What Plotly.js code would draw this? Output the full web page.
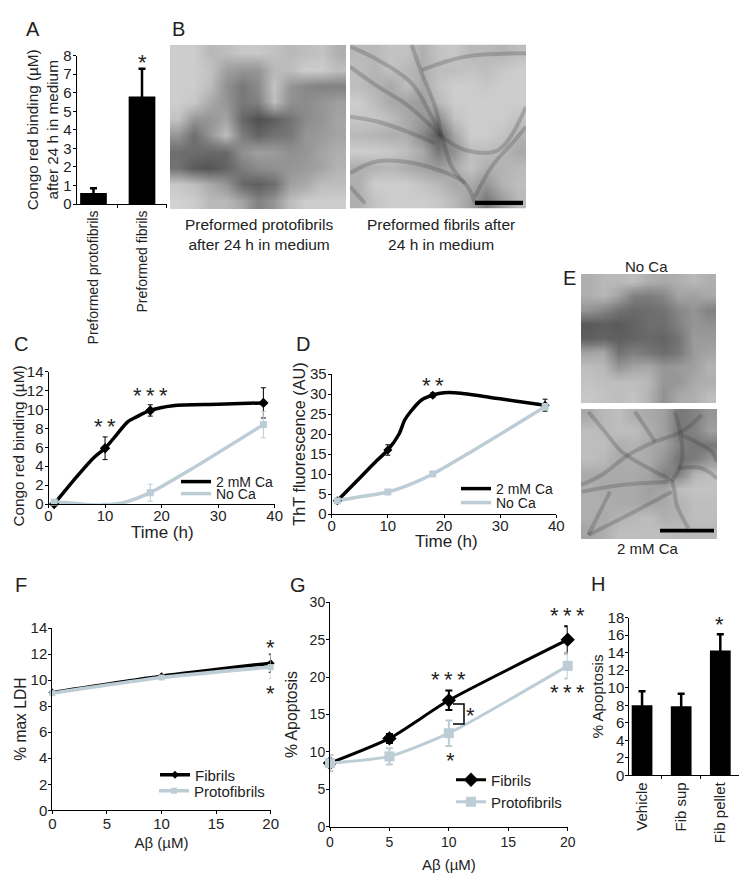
<!DOCTYPE html>
<html>
<head>
<meta charset="utf-8">
<script src="https://cdn.plot.ly/plotly-3.0.1.min.js"></script>
<style>html,body{margin:0;padding:0;background:#fff}#chart{width:752px;height:886px}</style>
</head>
<body>
<div id="chart"></div>
<script>
// ---------- data ----------
const aCategories = ['Preformed protofibrils', 'Preformed fibrils'];
const aValues = [0.6, 5.8];
const aErrors = [0.25, 1.5];

const hCategories = ['Vehicle', 'Fib sup', 'Fib pellet'];
const hValues = [8, 7.9, 14.25];
const hErrors = [1.6, 1.4, 1.85];

const timePoints = [1, 10, 18, 38];
const cCa = [0, 5.9, 9.9, 10.7];
const cCaErr = [0, 1.2, 0.6, 1.6];
const cNoCa = [0.2, -0.1, 1.2, 8.4];
const cNoCaErr = [0, 0.2, 0.9, 1.4];
const cCaCurveX = [1, 5, 8, 10, 12, 14, 15.5, 18, 22, 30, 38];
const cCaCurveY = [0, 2.9, 4.9, 5.9, 7.3, 8.7, 9.2, 9.9, 10.4, 10.55, 10.7];
const cNoCaCurveX = [1, 5, 8, 10, 13, 18, 25, 38];
const cNoCaCurveY = [0.2, 0.05, -0.1, -0.1, 0.1, 1.2, 3.6, 8.4];

const dCa = [3.3, 16, 29.7, 27.2];
const dCaErr = [0, 1.3, 0.6, 1.5];
const dNoCa = [3.3, 5.5, 10, 26.8];
const dNoCaErr = [0.5, 0.5, 0.5, 0.8];
const dCaCurveX = [1, 5, 8, 10, 12, 13, 14, 16, 18, 20, 23, 30, 38];
const dCaCurveY = [3.3, 9, 13.3, 16, 20, 23.5, 25.5, 28.5, 29.7, 30.3, 30.2, 28.8, 27.2];
const dNoCaCurveX = [1, 5, 10, 14, 18, 25, 38];
const dNoCaCurveY = [3.3, 4.3, 5.5, 7.4, 10, 15.7, 26.8];

const fDose = [0, 10, 20];
const fFibrils = [9.05, 10.3, 11.3];
const fFibrilsErr = [0.1, 0.1, 0.7];
const fProto = [9, 10.2, 11];
const fProtoErr = [0.1, 0.1, 0.9];

const gDose = [0, 5, 10, 20];
const gFibrils = [8.5, 11.8, 16.9, 25];
const gFibrilsErr = [0.5, 0.6, 1.3, 1.8];
const gProto = [8.5, 9.4, 12.5, 21.5];
const gProtoErr = [1.1, 1.1, 1.7, 1.7];

const imgB1 = [
 [205,205,185,190,200,200,195,185,190,195,175],
 [205,205,195,160,150,150,185,190,205,205,190],
 [205,205,190,145,120,140,195,150,135,130,130],
 [205,200,170,150,120,130,190,145,140,150,160],
 [195,150,150,165,105, 80, 95,115,140,150,165],
 [150,110,150,190,125,100,115,120,150,155,165],
 [110,110,105,105,145,160,155,145,150,165,175],
 [115, 90, 85,100,125,140,145,150,155,165,180],
 [200,190,170,150,105, 95,110,160,170,190,190],
 [210,205,185,185,165,130,150,190,205,205,205]];
const imgB2 = [
 [185,185,195,195,175,195,200,185,185,180,190],
 [190,180,195,185,175,190,190,195,190,200,205],
 [190,180,170,190,170,195,205,205,200,205,205],
 [205,190,170,165,155,185,205,205,205,205,205],
 [200,200,190,170,155,140,195,205,205,205,195],
 [185,180,175,175,140, 90,165,205,205,195,180],
 [205,205,200,190,170,120,145,190,190,185,170],
 [175,180,185,175,165,155,170,195,175,180,185],
 [175,205,205,205,195,185,170,170,150,180,190],
 [175,195,205,205,205,200,185,160,120,155,185]];
const imgE1 = [
 [175,185,185,190,175,170,175,185,175],
 [175,185,165,130,125,135,165,160,170],
 [150,135,115,105,110,115,135,150,130],
 [ 90, 95, 90,100,110,110,130,150,145],
 [ 95,100, 95,100,105,100,115,155,155],
 [165,170,115,130,120,110,120,155,165],
 [190,185,150,165,170,150,155,160,180],
 [195,190,190,190,185,150,150,170,175],
 [200,195,190,195,180,145,170,175,190]];
const imgE2 = [
 [170,185,190,175,170,160,120,130,150],
 [190,185,190,190,175,160,120,130,160],
 [190,190,175,180,170,160,130,120,120],
 [190,185,170,175,170,150,115,125,150],
 [170,170,170,170,165,130,130,180,190],
 [175,170,170,170,160,165,190,195,195],
 [175,175,170,170,165,170,180,190,190],
 [175,170,180,185,190,175,180,190,190],
 [165,175,190,190,190,190,185,185,185]];

const b2FibreX = [
 [350.3,378,411.7,431.7,441.7,451.7,465],
 [350,378,405,428.3,441.7],
 [411.7,421.7,435,441.7],
 [350,378.3,411.7,435],
 [350,375,405,438.3,465,475],
 [421.7,465,526],
 [441.7,465,498.3,526],
 [475,491.7,515,526],
 [350,365]];
const b2FibreY = [
 [46.7,60,83.3,116.7,136.7,166.7,183.3],
 [66.7,86.7,103.3,123.3,136.7],
 [45,73.3,106.7,136.7],
 [116.7,121.7,133.3,143.3],
 [173.3,161.7,161.7,170,183.3,203.3],
 [70,56.7,53.3],
 [136.7,150,150,106.7],
 [196.7,166.7,140,126.7],
 [186.7,203.3]];
const e2FibreX = [
 [581,601.7,628.3,655,681.7,701.7],
 [588.3,605,621.7,655,671.7,676.7,688.3],
 [635,648.3,655],
 [675,681.7,681.7,671.7],
 [581.7,621.7,668.3],
 [588.3,598.3,610],
 [588.3,621.7,671.7],
 [681.7,711.7,717],
 [678.3,701.7,717]];
const e2FibreY = [
 [485,475,455,441.7,431.7,415],
 [411.7,431.7,451.7,471.7,481.7,505,528.3],
 [411.7,431.7,441.7],
 [411.7,441.7,461.7,481.7],
 [491.7,485,481.7],
 [535,515,491.7],
 [535,518.3,491.7],
 [435,451.7,461.7],
 [468.3,468.3,478.3]];

// ---------- helpers ----------
const W = 752, H = 886;
const FONT = '"Liberation Sans", Arial, sans-serif';
const INK = '#222222', BLACK = '#000000', PALE = '#bccdd6';
const px = v => v / W, py = v => 1 - v / H;
const layout = {
  width: W, height: H, margin: {l:0, r:0, t:0, b:0},
  paper_bgcolor: '#fff', plot_bgcolor: 'rgba(0,0,0,0)',
  font: {family: FONT, color: INK, size: 14},
  showlegend: true, hovermode: false, annotations: [], shapes: []
};
const traces = [];
let axisCount = 0, legendCount = 0;
const hiddenAxis = {visible:false, showgrid:false, zeroline:false, showline:false, showticklabels:false, ticks:''};

function panelAxes(box, xo, yo) {
  axisCount++;
  const n = axisCount === 1 ? '' : axisCount;
  const base = {showgrid:false, zeroline:false, showline:true, linecolor:'#000', linewidth:1,
                ticks:'outside', ticklen:3, tickcolor:'#000', tickwidth:1, automargin:false,
                tickfont:{family:FONT, color:INK, size:15}};
  layout['xaxis'+n] = Object.assign({}, base, {domain:[px(box[0]),px(box[1])], anchor:'y'+n}, xo);
  layout['yaxis'+n] = Object.assign({}, base, {domain:[py(box[3]),py(box[2])], anchor:'x'+n, ticklabelstandoff:-2}, yo);
  return {xaxis:'x'+n, yaxis:'y'+n};
}
function imagePanel(z, box) {
  const a = panelAxes(box, hiddenAxis, Object.assign({}, hiddenAxis, {autorange:'reversed'}));
  traces.push(Object.assign({type:'heatmap', z:z, zmin:0, zmax:255, zsmooth:'fast', showscale:false,
    colorscale:[[0,'#000'],[1,'#fff']], showlegend:false}, a));
}
function fibres(box, xs, ys) {
  const a = panelAxes(box, Object.assign({}, hiddenAxis, {range:[box[0],box[1]]}),
                           Object.assign({}, hiddenAxis, {range:[box[3],box[2]]}));
  xs.forEach((x, i) => traces.push(Object.assign({type:'scatter', mode:'lines', x:x, y:ys[i], showlegend:false,
    line:{color:'rgba(55,55,55,0.24)', width:4, shape:'spline'}}, a)));
}
function legendAt(x, y, size) {
  legendCount++;
  const key = legendCount === 1 ? 'legend' : 'legend' + legendCount;
  layout[key] = {x:px(x), y:py(y), xanchor:'left', yanchor:'middle', bgcolor:'rgba(0,0,0,0)',
    borderwidth:0, itemwidth:30, font:{family:FONT, color:INK, size:size}, itemclick:false, itemdoubleclick:false};
  return key;
}
function lineSeries(a, name, xs, ys, color, width, legend) {
  traces.push(Object.assign({type:'scatter', mode:'lines', name:name, x:xs, y:ys, cliponaxis:false,
    legend:legend, line:{color:color, width:width, shape:'spline', smoothing:0.8}}, a));
}
function pointSeries(a, xs, ys, errs, color, symbol, size, errWidth, capWidth) {
  traces.push(Object.assign({type:'scatter', mode:'markers', x:xs, y:ys, cliponaxis:false, showlegend:false,
    marker:{color:color, symbol:symbol, size:size},
    error_y:{type:'data', array:errs, visible:true, color:color, thickness:errWidth, width:capWidth}}, a));
}
function fullSeries(a, name, xs, ys, errs, color, symbol, size, width, errWidth, capWidth, legend) {
  traces.push(Object.assign({type:'scatter', mode:'lines+markers', name:name, x:xs, y:ys, cliponaxis:false,
    legend:legend, line:{color:color, width:width, shape:'spline', smoothing:0.6},
    marker:{color:color, symbol:symbol, size:size},
    error_y:{type:'data', array:errs, visible:true, color:color, thickness:errWidth, width:capWidth}}, a));
}
function barSeries(a, cats, vals, errs, width) {
  traces.push(Object.assign({type:'bar', x:cats, y:vals, width:width, showlegend:false,
    marker:{color:'#000', line:{width:0}},
    error_y:{type:'data', array:errs, visible:true, color:'#000', thickness:2.5, width:3.5}}, a));
}
function label(text, x, y, size, extra) {
  layout.annotations.push(Object.assign({text:text, x:px(x), y:py(y), xref:'paper', yref:'paper',
    xanchor:'center', yanchor:'middle', showarrow:false, font:{family:FONT, color:INK, size:size}}, extra||{}));
}
const star = (n, x, y) => label(Array(n).fill('*').join('\u2009'), x, y + 3.5, 22);
function rectShape(x0, y0, x1, y1) {
  layout.shapes.push({type:'rect', xref:'paper', yref:'paper', x0:px(x0), x1:px(x1), y0:py(y1), y1:py(y0),
    fillcolor:'#000', line:{width:0}});
}
const ttl = (text, size, standoff) => ({text:text, font:{family:FONT, color:INK, size:size}, standoff:standoff});

// ---------- A ----------
const aA = panelAxes([76.5,167,55.7,204],
  {type:'category', range:[-0.35,1.515], tickson:'boundaries', tickangle:-90, tickfont:{family:FONT,color:INK,size:14}},
  {range:[0,8], dtick:1, title:ttl('Congo red binding (µM)<br>after 24 h in medium',15.3,0)});
barSeries(aA, aCategories, aValues, aErrors, 0.55);

// ---------- micrographs ----------
imagePanel(imgB1, [170,346,45,209]);
imagePanel(imgB2, [350,526,44.5,208.5]);
fibres([350,526,44.5,208.5], b2FibreX, b2FibreY);
imagePanel(imgE1, [581,716,274,403]);
imagePanel(imgE2, [581,717,409,539]);
fibres([581,717,409,539], e2FibreX, e2FibreY);
rectShape(475,200.7,523,205);
rectShape(660,528.7,714,532.5);

// ---------- C ----------
const aC = panelAxes([48.5,274.7,371.7,504],
  {range:[0,40], dtick:10, ticklabelstandoff:-5},
  {range:[0,14], dtick:2});
lineSeries(aC, '2 mM Ca', cCaCurveX, cCaCurveY, BLACK, 3.5, legendAt(176,482,14));
lineSeries(aC, 'No Ca', cNoCaCurveX, cNoCaCurveY, PALE, 3.5, legendAt(176,494,14));
pointSeries(aC, timePoints, cCa, cCaErr, BLACK, 'diamond', 8, 1, 2.5);
pointSeries(aC, timePoints, cNoCa, cNoCaErr, PALE, 'square', 7, 1, 2.5);
label('Congo red binding (µM)',18,446.5,15.3,{textangle:-90});
label('Time (h)',162,532,17);

// ---------- D ----------
const aD = panelAxes([331.7,556.3,374,514],
  {range:[0,40], dtick:10, ticklabelstandoff:-5},
  {range:[0,35], dtick:5, title:ttl('ThT fluorescence (AU)',16.3,0)});
lineSeries(aD, '2 mM Ca', dCaCurveX, dCaCurveY, BLACK, 3.5, legendAt(456,489,14));
lineSeries(aD, 'No Ca', dNoCaCurveX, dNoCaCurveY, PALE, 3.5, legendAt(456,503,14));
pointSeries(aD, timePoints, dCa, dCaErr, BLACK, 'diamond', 7, 1, 2.5);
pointSeries(aD, timePoints, dNoCa, dNoCaErr, PALE, 'square', 7, 1, 2.5);
label('Time (h)',446,541,17);

// ---------- F ----------
const aF = panelAxes([52.3,270.7,628,810.3],
  {range:[0,20], dtick:5, ticklabelstandoff:-3, title:ttl('Aβ (µM)',15,6)},
  {range:[0,14], dtick:2, title:ttl('% max LDH',15.6,0)});
fullSeries(aF, 'Fibrils', fDose, fFibrils, fFibrilsErr, BLACK, 'diamond', 6, 3.5, 1, 2, legendAt(155,775,15));
fullSeries(aF, 'Protofibrils', fDose, fProto, fProtoErr, PALE, 'square', 6, 3.5, 1, 2, legendAt(154,791,15));

// ---------- G ----------
const aG = panelAxes([330,567.7,602.3,826.7],
  {range:[0,20], dtick:5, ticklabelstandoff:-1, title:ttl('Aβ (µM)',15,10), tickfont:{family:FONT,color:INK,size:14}},
  {range:[0,30], dtick:5, title:ttl('% Apoptosis',15.8,8), tickfont:{family:FONT,color:INK,size:14}});
fullSeries(aG, 'Fibrils', gDose, gFibrils, gFibrilsErr, BLACK, 'diamond', 11, 3, 2, 3.5, legendAt(451,780,15));
fullSeries(aG, 'Protofibrils', gDose, gProto, gProtoErr, PALE, 'square', 10, 3, 2, 3.5, legendAt(451,802,15));
layout.shapes.push({type:'path', xref:'paper', yref:'paper', line:{color:'#000', width:1.5},
  path:'M '+px(453)+' '+py(704)+' L '+px(464)+' '+py(704)+' L '+px(464)+' '+py(724)+' L '+px(453)+' '+py(724)});

// ---------- H ----------
const aH = panelAxes([629.3,738.7,617.7,775.3],
  {type:'category', range:[-0.326,2.47], tickson:'boundaries', tickangle:-90, tickfont:{family:FONT,color:INK,size:15}},
  {range:[0,18], dtick:2, title:ttl('% Apoptosis',15.3,0)});
barSeries(aH, hCategories, hValues, hErrors, 0.53);

// ---------- text ----------
label('A',32.5,29,20); label('B',178,29,20); label('C',20.5,344,20); label('D',303,344,20);
label('E',569,278,20); label('F',21,585,20); label('G',298,585,20); label('H',598,584,20);
label('Preformed protofibrils<br>after 24 h in medium',259,234.5,15.5);
label('Preformed fibrils after<br>24 h in medium',441,234.5,15.5);
label('No Ca',646,266,15);
label('2 mM Ca',648,548,15);
star(1,142,59);
star(2,105,423); star(3,150,392);
star(2,432.7,382);
star(1,270,644); star(1,270,690);
star(3,449,676); star(3,567,612); star(3,567,689); star(1,450,757); star(1,470,712);
star(1,719,621);

Plotly.newPlot('chart', traces, layout, {displayModeBar:false, staticPlot:true});
</script>
</body>
</html>
